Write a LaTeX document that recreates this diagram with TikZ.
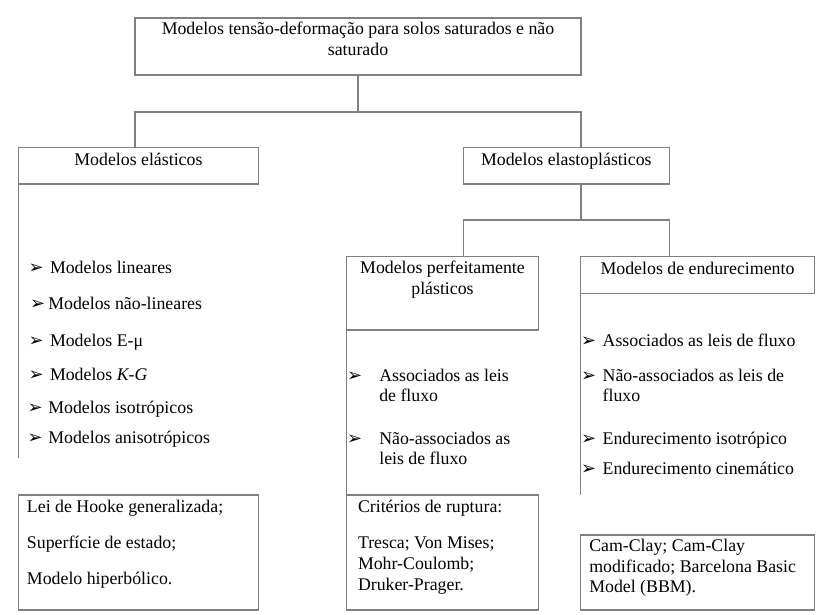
\documentclass[tikz,border=0pt]{standalone}
\usepackage{fontspec}
\setmainfont{Liberation Serif}
\newfontfamily\dejavu{DejaVu Sans}
\newcommand\mainsize{\fontsize{17.8}{20.2}\selectfont}
\begin{document}
\begin{tikzpicture}[x=1pt,y=-1pt,
  box/.style={draw=black!50, line width=1.2pt, rectangle, inner sep=0pt, outer sep=0pt, anchor=north west},
  conn/.style={draw=black!50, line width=1.2pt},
  txt/.style={inner sep=0pt, outer sep=0pt, font=\mainsize},
  ctxt/.style={txt, anchor=base},
  ltxt/.style={txt, anchor=base west},
  bul/.style={inner sep=0pt, outer sep=0pt, anchor=base west, font=\dejavu\fontsize{18}{18}\selectfont}
]
\useasboundingbox (0,0) rectangle (819,614);
\fill[white] (0,0) rectangle (819,614);

% boxes
\node[box, minimum width=446, minimum height=57] (top) at (135,18) {};
\node[box, minimum width=240, minimum height=36.3] (ela) at (18.4,147.7) {};
\node[box, minimum width=206, minimum height=36.3] (elp) at (463.3,147.7) {};
\node[box, minimum width=191.6, minimum height=73.3] (perf) at (346.7,256.7) {};
\node[box, minimum width=233.6, minimum height=36.6] (endu) at (580.7,256.7) {};
\node[box, minimum width=240.4, minimum height=115] (hooke) at (18.4,495) {};
\node[box, minimum width=191.6, minimum height=115] (crit) at (346.7,495) {};
\node[box, minimum width=233.6, minimum height=75] (cam) at (580.7,535) {};

% box titles
\node[ctxt] (topt1) at (358,34.5) {Modelos tensão-deformação para solos saturados e não};
\node[ctxt] (topt2) at (358,55) {saturado};
\node[ctxt] (elat) at (138.4,165) {Modelos elásticos};
\node[ctxt] (elpt) at (566.3,165) {Modelos elastoplásticos};
\node[ctxt] (perft1) at (442.5,273.5) {Modelos perfeitamente};
\node[ctxt] (perft2) at (442.5,294.5) {plásticos};
\node[ctxt] (endut) at (697.5,274) {Modelos de endurecimento};

% connectors
\coordinate (bl) at (135,112);
\coordinate (br) at (581,112);
\draw[conn] (top.south) -- (top.south |- bl);
\draw[conn] (ela.north -| bl) -- (bl) -- (br) -- (elp.north -| br);
\coordinate (cl) at (463.3,220);
\coordinate (cr) at (669.3,220);
\draw[conn] (elp.south -| br) -- (br |- cl);
\draw[conn] (perf.north -| cl) -- (cl) -- (cr) -- (endu.north -| cr);
\coordinate (elaend) at (18.4,458);
\coordinate (enduend) at (580.7,495);
\draw[conn] (ela.south west) -- (elaend);
\draw[conn] (perf.south west) -- (crit.north west);
\draw[conn] (endu.south west) -- (enduend);

% left list
\node[bul] (b1) at (28.5,273.3) {➢};
\node[ltxt] (l1) at (50,273.3) {Modelos lineares};
\node[bul] (b2) at (30,309) {➢};
\node[ltxt] (l2) at (48.3,309) {Modelos não-lineares};
\node[bul] (b3) at (28.5,346.7) {➢};
\node[ltxt] (l3) at (50,346.7) {Modelos E-μ};
\node[bul] (b4) at (28.5,380) {➢};
\node[ltxt] (l4) at (50,380) {Modelos \textit{K-G}};
\node[bul] (b5) at (27.5,413.3) {➢};
\node[ltxt] (l5) at (48.3,413.3) {Modelos isotrópicos};
\node[bul] (b6) at (27.5,443.3) {➢};
\node[ltxt] (l6) at (48.3,443.3) {Modelos anisotrópicos};

% middle list
\node[bul] (m1) at (347,381.7) {➢};
\node[ltxt] (mt1) at (379.3,381.7) {Associados as leis};
\node[ltxt] (mt2) at (379.3,401.7) {de fluxo};
\node[bul] (m2) at (347,444) {➢};
\node[ltxt] (mt3) at (379.3,444) {Não-associados as};
\node[ltxt] (mt4) at (379.3,464.5) {leis de fluxo};

% right list
\node[bul] (r1) at (581,346.5) {➢};
\node[ltxt] (rt1) at (602.7,346.5) {Associados as leis de fluxo};
\node[bul] (r2) at (581,381.7) {➢};
\node[ltxt] (rt2) at (602.7,381.7) {Não-associados as leis de};
\node[ltxt] (rt3) at (602.7,401.7) {fluxo};
\node[bul] (r3) at (581,444) {➢};
\node[ltxt] (rt4) at (602.7,444) {Endurecimento isotrópico};
\node[bul] (r4) at (581,474) {➢};
\node[ltxt] (rt5) at (602.7,474) {Endurecimento cinemático};

% bottom boxes text
\node[ltxt] (h1) at (27,512) {Lei de Hooke generalizada;};
\node[ltxt] (h2) at (27,548.5) {Superfície de estado;};
\node[ltxt] (h3) at (27,584) {Modelo hiperbólico.};
\node[ltxt] (c1) at (358,512) {Critérios de ruptura:};
\node[ltxt] (c2) at (358,548.5) {Tresca; Von Mises;};
\node[ltxt] (c3) at (358,569.5) {Mohr-Coulomb;};
\node[ltxt] (c4) at (358,590) {Druker-Prager.};
\node[ltxt] (k1) at (589.3,551.5) {Cam-Clay; Cam-Clay};
\node[ltxt] (k2) at (589.3,572) {modificado; Barcelona Basic};
\node[ltxt] (k3) at (589.3,592.5) {Model (BBM).};
\end{tikzpicture}
\end{document}
